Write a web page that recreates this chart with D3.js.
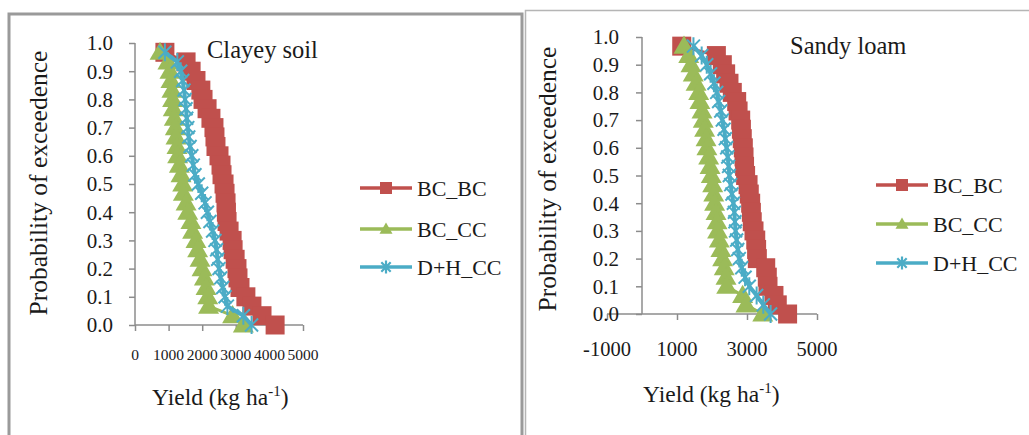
<!DOCTYPE html>
<html><head><meta charset="utf-8">
<script src="https://cdn.jsdelivr.net/npm/d3@7"></script>
<style>
html,body{margin:0;padding:0;background:#fff;}
svg text{font-family:"Liberation Serif","Times New Roman",serif;fill:#1a1a1a;}
</style></head>
<body>
<svg id="c" width="1029" height="435"></svg>
<script>
// ---- data ----
const probability = [0.967,0.933,0.900,0.867,0.833,0.800,0.767,0.733,0.700,0.667,0.633,0.600,0.567,0.533,0.500,0.467,0.433,0.400,0.367,0.333,0.300,0.267,0.233,0.200,0.167,0.133,0.100,0.067,0.033,0.000];
const seriesNames = ["BC_BC","BC_CC","D+H_CC"];
const clayeyBCBC = [890,1520,1670,1815,1960,2025,2145,2260,2350,2380,2410,2500,2560,2590,2650,2680,2710,2720,2740,2800,2890,2920,2980,3035,3065,3125,3300,3480,3780,4170];
const clayeyBCCC = [745,980,1040,1070,1100,1120,1140,1170,1200,1220,1250,1270,1320,1370,1420,1440,1520,1570,1665,1715,1815,1865,1935,1995,2065,2115,2165,2190,2905,3225];
const clayeyDHCC = [890,1260,1360,1420,1460,1490,1520,1540,1570,1600,1640,1690,1735,1785,1885,1985,2085,2155,2230,2310,2380,2430,2460,2500,2550,2610,2680,2750,3225,3470];
const sandyBCBC = [1135,2125,2295,2390,2485,2580,2705,2745,2820,2840,2865,2895,2915,2930,2960,3030,3065,3105,3125,3150,3200,3250,3275,3295,3535,3580,3600,3770,3865,4160];
const sandyBCCC = [1200,1335,1400,1465,1545,1620,1655,1715,1750,1790,1830,1855,1905,1945,1980,2020,2050,2075,2115,2145,2160,2210,2255,2305,2350,2400,2420,2875,2970,3450];
const sandyDHCC = [1470,1705,1850,1960,2055,2135,2190,2250,2295,2345,2380,2420,2450,2475,2495,2535,2570,2610,2640,2655,2675,2705,2735,2780,2850,2945,3065,3275,3465,3675];
const yTicks = [0,0.1,0.2,0.3,0.4,0.5,0.6,0.7,0.8,0.9,1.0];
const clayeyXTicks = [0,1000,2000,3000,4000,5000];
const sandyXTicks = [-1000,1000,3000,5000];
const titles = ["Clayey soil","Sandy loam"];

const colors = ["#C0504D","#9BBB59","#4BACC6"];
const svg = d3.select("#c");

// frames
svg.append("path").attr("d","M9,440 V14 H522 V440").attr("fill","none").attr("stroke","#9a9a9a").attr("stroke-width",3);
svg.append("path").attr("d","M525.5,440 V10.5 H1030").attr("fill","none").attr("stroke","#b5b5b5").attr("stroke-width",1.5);

function starPath(r){
  const d = r*0.72;
  return `M${-d},${-d}L${d},${d}M${-d},${d}L${d},${-d}M0,${-r}L0,${r}`;
}
function marker(g, k, x, y, big){
  if(k===0){
    const s = big?19:12;
    g.append("path").attr("d", d3.symbol(d3.symbolSquare, s*s)()).attr("transform",`translate(${x},${y})`).attr("fill",colors[0]);
  } else if(k===1){
    const side = big?21:13;
    g.append("path").attr("d", d3.symbol(d3.symbolTriangle, Math.sqrt(3)/4*side*side)()).attr("transform",`translate(${x},${y+ (big?1.5:1)})`).attr("fill",colors[1]);
  } else {
    g.append("path").attr("d", starPath(big?9:6.5)).attr("transform",`translate(${x},${y})`).attr("stroke",colors[2]).attr("stroke-width",big?2:2.2).attr("fill","none");
  }
}

function panel(cfg){
  const g = svg.append("g");
  const x = d3.scaleLinear().domain(cfg.xDomain).range(cfg.xRange);
  const y = d3.scaleLinear().domain([0,1]).range(cfg.yRange);
  const axisColor = "#8c8c8c";
  // y axis
  const yAxis = d3.axisLeft(y).tickValues(yTicks).tickSize(6).tickFormat("");
  const ya = g.append("g").attr("transform",`translate(${x(0)},0)`).call(yAxis);
  ya.selectAll("path,line").attr("stroke",axisColor).attr("stroke-width",1.5);
  ya.select(".domain").attr("d",`M0,${y(1)}V${y(0)}`);
  // x axis
  const xAxis = d3.axisBottom(x).tickValues(cfg.xTicks).tickSize(6).tickFormat("");
  const xa = g.append("g").attr("transform",`translate(0,${y(0)})`).call(xAxis);
  xa.selectAll("path,line").attr("stroke",axisColor).attr("stroke-width",1.5);
  xa.select(".domain").attr("d",`M${cfg.xRange[0]},0H${cfg.xRange[1]}`);
  // tick labels
  g.selectAll(".yl").data(yTicks).enter().append("text")
    .attr("x",cfg.yLabelX).attr("y",d=>y(d)).attr("dy","0.35em")
    .attr("text-anchor","end").attr("font-size",cfg.yLabelSize).text(d=>d.toFixed(1));
  g.selectAll(".xl").data(cfg.xTicks).enter().append("text")
    .attr("x",d=>x(d)).attr("y",cfg.xLabelY)
    .attr("text-anchor","middle").attr("font-size",cfg.xLabelSize).text(d=>d);
  // series
  cfg.series.forEach((vals,k)=>{
    const pts = vals.map((v,i)=>[x(v), y(probability[i])]);
    g.append("path").attr("d", d3.line()(pts)).attr("fill","none")
      .attr("stroke",colors[k]).attr("stroke-width", k===2?4:3).attr("stroke-linejoin","round");
    pts.forEach(p=>marker(g,k,p[0],p[1],true));
  });
  // title
  g.append("text").attr("x",cfg.titleX).attr("y",cfg.titleY).attr("font-size",24.5).text(cfg.title);
  // axis titles
  g.append("text").attr("transform",`translate(${cfg.yTitleX},${cfg.yTitleY}) rotate(-90)`)
    .attr("text-anchor","middle").attr("font-size",25.5).text("Probability of exceedence");
  const xt = g.append("text").attr("x",cfg.xTitleX).attr("y",cfg.xTitleY).attr("font-size",23.5);
  xt.append("tspan").text("Yield (kg ha");
  xt.append("tspan").attr("font-size",15).attr("dy",-9).text("-1");
  xt.append("tspan").attr("dy",9).text(")");
  // legend
  seriesNames.forEach((n,k)=>{
    const ly = cfg.legendY[k];
    g.append("line").attr("x1",cfg.legendX).attr("x2",cfg.legendX+52).attr("y1",ly).attr("y2",ly)
      .attr("stroke",colors[k]).attr("stroke-width",3.5);
    marker(g,k,cfg.legendX+26,ly,false);
    g.append("text").attr("x",cfg.legendX+57).attr("y",ly).attr("dy","0.35em").attr("font-size",22).text(n);
  });
}

panel({xDomain:[0,5000], xRange:[135,303], yRange:[325,43], xTicks:clayeyXTicks,
  yLabelX:113, yLabelSize:21, xLabelY:360, xLabelSize:15.5,
  series:[clayeyBCBC,clayeyBCCC,clayeyDHCC], title:titles[0], titleX:207, titleY:58,
  yTitleX:47, yTitleY:183, xTitleX:152, xTitleY:405, legendX:360, legendY:[188,229,267]});

panel({xDomain:[-1000,5000], xRange:[607,817], yRange:[314,37], xTicks:sandyXTicks,
  yLabelX:619, yLabelSize:21, xLabelY:356, xLabelSize:20.5,
  series:[sandyBCBC,sandyBCCC,sandyDHCC], title:titles[1], titleX:790, titleY:54,
  yTitleX:556, yTitleY:179, xTitleX:643, xTitleY:402, legendX:876, legendY:[185,224,263]});
</script>
</body></html>
